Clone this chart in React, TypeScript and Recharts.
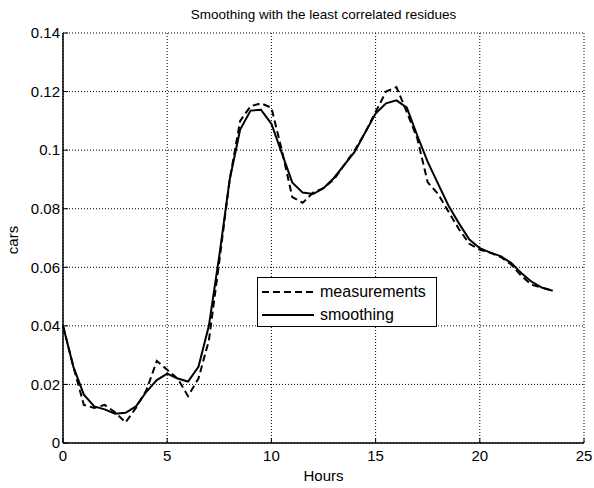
import { LineChart, Line, XAxis, YAxis, CartesianGrid } from "recharts";

const hours = [
  0, 0.5, 1, 1.5, 2, 2.5, 3, 3.5, 4, 4.5, 5, 5.5, 6, 6.5, 7, 7.5, 8, 8.5, 9, 9.5,
  10, 10.5, 11, 11.5, 12, 12.5, 13, 13.5, 14, 14.5, 15, 15.5, 16, 16.5, 17, 17.5,
  18, 18.5, 19, 19.5, 20, 20.5, 21, 21.5, 22, 22.5, 23, 23.5,
];

const measurements = [
  0.04, 0.026, 0.013, 0.012, 0.013, 0.0105, 0.007, 0.012, 0.018, 0.028, 0.025,
  0.022, 0.016, 0.022, 0.035, 0.062, 0.09, 0.11, 0.115, 0.116, 0.1145, 0.1,
  0.084, 0.082, 0.0855, 0.087, 0.09, 0.095, 0.1, 0.106, 0.113, 0.12, 0.1215,
  0.113, 0.104, 0.089, 0.085, 0.079, 0.073, 0.068, 0.066, 0.065, 0.0635, 0.061,
  0.057, 0.054, 0.053, 0.052,
];

const smoothing = [
  0.04, 0.026, 0.0165, 0.0125, 0.0115, 0.01, 0.0103, 0.0125, 0.0175, 0.0215,
  0.0237, 0.022, 0.021, 0.026, 0.04, 0.064, 0.09, 0.107, 0.1135, 0.1138, 0.109,
  0.099, 0.089, 0.0855, 0.085, 0.087, 0.0905, 0.095, 0.0995, 0.106, 0.1125,
  0.116, 0.117, 0.1145, 0.105, 0.096, 0.0885, 0.081, 0.075, 0.0695, 0.0665,
  0.065, 0.0638, 0.0615, 0.058, 0.055, 0.053, 0.052,
];

const xTicks = [0, 5, 10, 15, 20, 25];
const yTicks = [0, 0.02, 0.04, 0.06, 0.08, 0.1, 0.12, 0.14];

const data = hours.map((t, i) => ({
  t,
  measurements: measurements[i],
  smoothing: smoothing[i],
}));

const font = "'Liberation Sans', Arial, Helvetica, sans-serif";

// legend drawn as an overlay so it doesn't eat plot space
const LegendBox = () => (
  <div
    style={{
      position: "absolute",
      left: 257,
      top: 277,
      width: 178,
      height: 48,
      border: "1.5px solid #000",
      background: "#fff",
      fontFamily: font,
      fontSize: 16,
      color: "#000",
    }}
  >
    <div style={{ display: "flex", alignItems: "center", height: 23, marginTop: 2 }}>
      <svg width={62} height={10}>
        <line x1={4} y1={5} x2={56} y2={5} stroke="#000" strokeWidth={2} strokeDasharray="7 4" />
      </svg>
      <span>measurements</span>
    </div>
    <div style={{ display: "flex", alignItems: "center", height: 23 }}>
      <svg width={62} height={10}>
        <line x1={4} y1={5} x2={56} y2={5} stroke="#000" strokeWidth={2} />
      </svg>
      <span>smoothing</span>
    </div>
  </div>
);

export default function App() {
  return (
    <div style={{ position: "absolute", left: 0, top: 0, width: 594, height: 488, background: "#fff" }}>
      <LineChart
        width={594}
        height={488}
        data={data}
        margin={{ top: 33, right: 10, left: 0, bottom: 0 }}
        style={{ position: "absolute", left: 0, top: 0 }}
      >
        <CartesianGrid stroke="#000" strokeDasharray="1 2" strokeWidth={1} />
        <XAxis
          dataKey="t"
          type="number"
          domain={[0, 25]}
          ticks={xTicks}
          height={45}
          tickSize={-5}
          tickMargin={12}
          axisLine={{ stroke: "#000", strokeWidth: 1.5 }}
          tickLine={{ stroke: "#000" }}
          tick={{ fill: "#000", fontSize: 15, fontFamily: font }}
        />
        <XAxis
          xAxisId="top"
          orientation="top"
          type="number"
          domain={[0, 25]}
          ticks={xTicks}
          height={0}
          tickSize={-5}
          tick={false}
          axisLine={{ stroke: "#000", strokeWidth: 1.5 }}
          tickLine={{ stroke: "#000" }}
        />
        <YAxis
          type="number"
          domain={[0, 0.14]}
          ticks={yTicks}
          width={63}
          tickSize={-5}
          tickMargin={8}
          tickFormatter={(v: number) => String(Number(v.toFixed(2)))}
          axisLine={{ stroke: "#000", strokeWidth: 1.5 }}
          tickLine={{ stroke: "#000" }}
          tick={{ fill: "#000", fontSize: 15, fontFamily: font }}
        />
        <YAxis
          yAxisId="right"
          orientation="right"
          type="number"
          domain={[0, 0.14]}
          ticks={yTicks}
          width={0}
          tickSize={-5}
          tick={false}
          axisLine={{ stroke: "#000", strokeWidth: 1.5 }}
          tickLine={{ stroke: "#000" }}
        />
        <Line
          dataKey="measurements"
          stroke="#000"
          strokeWidth={2}
          strokeDasharray="7 4"
          dot={false}
          isAnimationActive={false}
        />
        <Line
          dataKey="smoothing"
          stroke="#000"
          strokeWidth={2}
          dot={false}
          isAnimationActive={false}
        />
      </LineChart>
      <div
        style={{
          position: "absolute",
          left: 63,
          width: 521,
          top: 7,
          textAlign: "center",
          fontFamily: font,
          fontSize: 13.5,
        }}
      >
        Smoothing with the least correlated residues
      </div>
      <div
        style={{
          position: "absolute",
          left: 63,
          width: 521,
          top: 467,
          textAlign: "center",
          fontFamily: font,
          fontSize: 15,
        }}
      >
        Hours
      </div>
      <div
        style={{
          position: "absolute",
          left: 12,
          top: 240,
          transform: "translate(-50%, -50%) rotate(-90deg)",
          fontFamily: font,
          fontSize: 15,
        }}
      >
        cars
      </div>
      <LegendBox />
    </div>
  );
}
